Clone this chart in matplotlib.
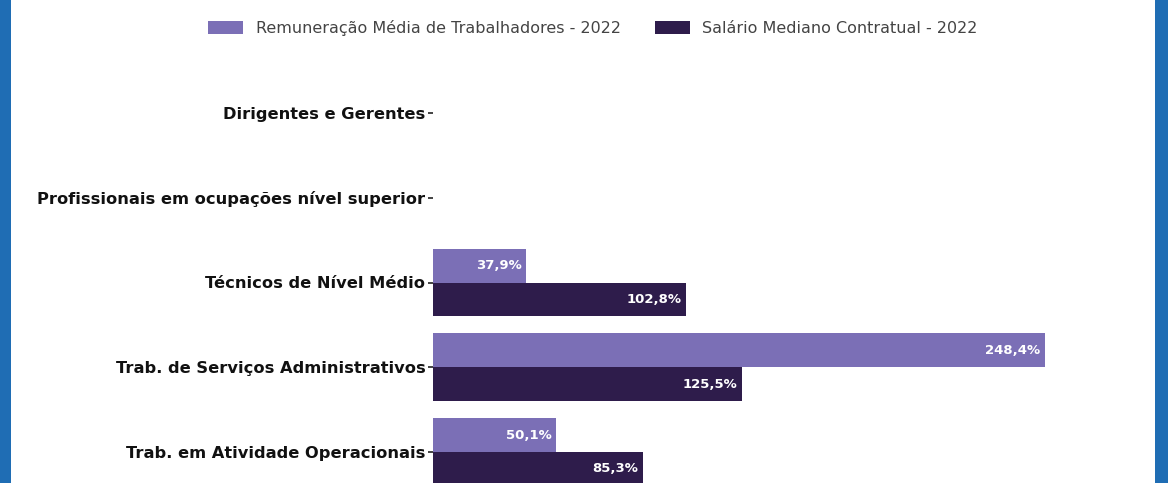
import numpy as np
import matplotlib

matplotlib.use("Agg")
import matplotlib.pyplot as plt
from matplotlib.patches import Rectangle

categories = [
    "Dirigentes e Gerentes",
    "Profissionais em ocupações nível superior",
    "Técnicos de Nível Médio",
    "Trab. de Serviços Administrativos",
    "Trab. em Atividade Operacionais",
]
remuneracao = [np.nan, np.nan, 37.9, 248.4, 50.1]
salario = [np.nan, np.nan, 102.8, 125.5, 85.3]
series_names = ["Remuneração Média de Trabalhadores - 2022",
                "Salário Mediano Contratual - 2022"]

LIGHT = "#7b6fb6"
DARK = "#2e1c4b"
BLUE = "#1f6db4"

W, H = 1168, 483
fig = plt.figure(figsize=(W / 100, H / 100), dpi=100)

# side strips
fig.patches.append(Rectangle((0, 0), 11 / W, 1, transform=fig.transFigure,
                             facecolor=BLUE, edgecolor="none"))
fig.patches.append(Rectangle((1155 / W, 0), 13 / W, 1, transform=fig.transFigure,
                             facecolor=BLUE, edgecolor="none"))

ax = fig.add_axes([433 / W, 0, (1098 - 433) / W, (483 - 70) / H])
y = np.arange(len(categories))
h = 0.4
b1 = ax.barh(y - h / 2, remuneracao, height=h, color=LIGHT, label=series_names[0])
b2 = ax.barh(y + h / 2, salario, height=h, color=DARK, label=series_names[1])

def fmt(v):
    return f"{v:.1f}%".replace(".", ",")

for bars, vals in ((b1, remuneracao), (b2, salario)):
    for rect, v in zip(bars, vals):
        if np.isnan(v):
            continue
        ax.annotate(fmt(v), (v, rect.get_y() + rect.get_height() / 2),
                    xytext=(-3.5, 0), textcoords="offset points",
                    ha="right", va="center", color="white",
                    fontsize=9.5, fontweight="bold")

ax.set_xlim(0, 270)
ax.set_ylim(4 + (483 - 452) / 84.75, -(113 - 70) / 84.75)
ax.set_yticks(y)
ax.set_yticklabels(categories, fontsize=11.7, fontweight="bold", color="#111111")
ax.tick_params(axis="y", length=3.5, width=1.2, pad=2, color="#222222")
ax.set_xticks([])
for s in ax.spines.values():
    s.set_visible(False)

fig.legend(handles=[b1, b2], loc="center", bbox_to_anchor=(593 / W, 1 - 28 / H),
           ncol=2, frameon=False, fontsize=11.5, handlelength=2.2, handleheight=0.8,
           columnspacing=2.1, handletextpad=0.8, labelcolor="#444444")

fig.savefig("out.png", dpi=100, facecolor="white")
